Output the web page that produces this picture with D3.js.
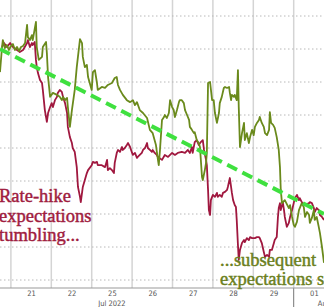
<!DOCTYPE html>
<html>
<head>
<meta charset="utf-8">
<script src="https://cdn.jsdelivr.net/npm/d3@7"></script>
<style>
  body { margin: 0; background: #fff; }
  svg { display: block; }
</style>
</head>
<body>
<div id="chart"></div>
<script>
// trading days on the axis (weekend skipped)
const dayLabels = ['21', '22', '25', '26', '27', '28', '29', '01']
const monthLabels = [{ name: 'Jul 2022', t: 2.5 }, { name: 'Aug 2022', t: 8.0 }]
const valueTicks = [40, 50, 60, 70, 80, 90, 100, 110, 120]

// [trading day offset from Jul 21, bps]
const greenSeries = [
  [-0.27, 103.0], [-0.22, 110.6], [-0.20, 112.7], [-0.15, 110.3], [-0.10, 111.2], [-0.05, 109.7],
  [0.00, 110.9], [0.05, 111.5], [0.10, 109.7], [0.15, 110.6], [0.20, 109.4], [0.25, 110.6],
  [0.30, 110.9], [0.35, 111.8], [0.40, 117.3], [0.42, 113.6], [0.47, 112.7], [0.52, 114.2],
  [0.54, 112.7], [0.62, 118.2], [0.64, 110.6], [0.69, 106.7], [0.77, 107.6], [0.79, 110.6],
  [0.87, 112.1], [0.89, 108.8], [0.92, 101.5], [0.97, 95.5], [1.04, 96.7], [1.14, 96.1],
  [1.21, 95.5], [1.26, 94.5], [1.29, 95.5], [1.34, 94.5], [1.39, 95.2], [1.41, 92.4],
  [1.46, 86.4], [1.51, 91.5], [1.58, 97.6], [1.63, 104.5], [1.71, 113.0], [1.76, 111.8],
  [1.78, 107.6], [1.83, 104.5], [1.88, 105.2], [1.91, 101.5], [2.00, 97.6], [2.03, 103.0],
  [2.08, 103.6], [2.13, 99.7], [2.15, 97.6], [2.25, 98.5], [2.33, 98.2], [2.40, 99.1],
  [2.50, 99.7], [2.57, 101.2], [2.62, 101.5], [2.65, 99.1], [2.70, 97.6], [2.77, 96.1],
  [2.87, 94.5], [2.95, 93.9], [3.02, 94.5], [3.07, 93.0], [3.12, 93.9], [3.19, 91.5],
  [3.27, 90.6], [3.37, 89.1], [3.44, 85.5], [3.51, 84.5], [3.59, 80.9], [3.64, 76.4],
  [3.66, 74.8], [3.69, 79.4], [3.74, 88.5], [3.79, 89.4], [3.81, 90.0], [3.86, 89.1],
  [3.91, 90.6], [3.94, 94.5], [3.99, 92.4], [4.03, 91.5], [4.06, 89.4], [4.11, 91.5],
  [4.16, 93.9], [4.18, 94.5], [4.23, 94.5], [4.28, 93.6], [4.31, 91.5], [4.36, 90.0],
  [4.41, 88.5], [4.43, 86.4], [4.48, 85.5], [4.53, 84.5], [4.55, 84.8], [4.60, 82.4],
  [4.65, 81.5], [4.68, 80.3], [4.73, 71.2], [4.75, 70.3], [4.80, 73.3], [4.83, 75.5],
  [4.85, 78.5], [4.88, 99.7], [4.93, 100.0], [4.98, 94.5], [5.02, 94.5], [5.05, 90.6],
  [5.10, 87.6], [5.15, 90.6], [5.17, 93.6], [5.22, 95.5], [5.27, 98.2], [5.30, 98.5],
  [5.35, 98.2], [5.40, 98.5], [5.42, 96.7], [5.45, 94.5], [5.47, 96.1], [5.52, 95.5],
  [5.54, 96.1], [5.59, 94.5], [5.62, 103.6], [5.64, 92.4], [5.67, 80.3], [5.72, 84.5],
  [5.77, 87.6], [5.79, 82.4], [5.84, 84.5], [5.89, 81.5], [5.92, 83.3], [5.97, 85.5],
  [6.01, 83.9], [6.04, 86.4], [6.09, 87.6], [6.14, 88.5], [6.16, 89.4], [6.21, 87.6],
  [6.26, 86.4], [6.29, 84.5], [6.34, 83.9], [6.39, 85.5], [6.41, 90.9], [6.44, 87.6],
  [6.49, 87.0], [6.53, 86.1], [6.58, 83.3], [6.63, 79.4], [6.66, 74.2], [6.68, 67.3],
  [6.71, 63.3], [6.78, 64.2], [6.88, 61.8], [6.91, 62.7], [6.96, 59.1], [7.00, 56.7],
  [7.03, 56.1], [7.08, 57.6], [7.13, 61.2], [7.20, 63.3], [7.25, 62.1], [7.28, 59.1],
  [7.33, 60.6], [7.38, 59.7], [7.40, 57.3], [7.45, 58.8], [7.50, 61.2], [7.52, 58.2],
  [7.57, 59.1], [7.62, 56.1], [7.65, 54.2], [7.70, 50.0], [7.75, 45.2]
]

const redSeries = [
  [-0.22, 110.6], [-0.17, 111.8], [-0.10, 110.6], [-0.02, 111.8], [0.05, 110.6], [0.15, 109.7],
  [0.22, 109.1], [0.30, 109.7], [0.40, 111.8], [0.42, 112.7], [0.47, 110.6], [0.52, 111.8],
  [0.54, 111.2], [0.59, 112.1], [0.62, 106.7], [0.64, 104.5], [0.67, 102.7], [0.72, 100.6],
  [0.77, 99.7], [0.79, 97.6], [0.84, 91.5], [0.89, 87.9], [0.92, 90.6], [0.97, 92.4],
  [1.01, 93.6], [1.04, 92.4], [1.09, 94.5], [1.14, 95.5], [1.16, 96.7], [1.21, 97.6],
  [1.26, 97.0], [1.29, 95.5], [1.34, 93.6], [1.39, 90.6], [1.41, 86.4], [1.46, 83.3],
  [1.51, 81.5], [1.53, 80.0], [1.58, 78.8], [1.63, 74.2], [1.66, 68.2], [1.71, 65.2],
  [1.73, 63.6], [1.78, 68.2], [1.83, 70.3], [1.88, 72.4], [1.91, 73.3], [2.00, 74.8],
  [2.03, 75.8], [2.08, 75.5], [2.13, 75.8], [2.15, 74.8], [2.25, 74.8], [2.33, 74.2],
  [2.38, 76.4], [2.40, 73.3], [2.45, 73.9], [2.50, 73.3], [2.55, 72.4], [2.57, 75.5],
  [2.62, 78.5], [2.65, 79.4], [2.70, 78.8], [2.75, 80.3], [2.77, 79.4], [2.82, 80.0],
  [2.87, 80.9], [2.90, 81.5], [2.95, 80.3], [3.00, 78.5], [3.02, 77.9], [3.07, 78.5],
  [3.12, 77.0], [3.14, 77.3], [3.19, 77.9], [3.24, 78.5], [3.27, 79.4], [3.32, 80.0],
  [3.37, 81.5], [3.39, 80.0], [3.44, 79.4], [3.49, 78.8], [3.51, 79.4], [3.56, 78.5],
  [3.61, 77.9], [3.64, 77.3], [3.74, 76.4], [3.81, 77.9], [3.89, 77.3], [3.99, 78.5],
  [4.06, 77.9], [4.13, 78.5], [4.23, 78.8], [4.31, 78.5], [4.38, 79.4], [4.43, 78.5],
  [4.48, 80.3], [4.50, 78.5], [4.55, 81.8], [4.60, 82.4], [4.65, 80.9], [4.70, 81.8],
  [4.75, 82.4], [4.78, 79.4], [4.83, 76.4], [4.85, 74.8], [4.88, 67.3], [4.90, 61.2],
  [4.93, 59.7], [4.95, 64.2], [4.98, 65.2], [5.00, 65.8], [5.05, 65.2], [5.10, 66.4],
  [5.12, 65.2], [5.17, 65.8], [5.22, 65.2], [5.25, 66.4], [5.30, 66.7], [5.35, 67.3],
  [5.37, 68.2], [5.42, 70.9], [5.47, 66.4], [5.50, 64.2], [5.54, 62.7], [5.57, 62.1],
  [5.59, 58.2], [5.62, 50.6], [5.64, 46.1], [5.67, 49.1], [5.72, 51.2], [5.77, 52.1],
  [5.79, 51.5], [5.84, 52.7], [5.89, 52.1], [5.92, 53.0], [5.97, 52.7], [6.04, 52.7],
  [6.09, 53.0], [6.14, 53.0], [6.16, 52.7], [6.21, 51.2], [6.26, 48.5], [6.29, 47.0],
  [6.34, 47.6], [6.39, 47.0], [6.41, 49.1], [6.46, 49.1], [6.51, 51.2], [6.53, 52.1],
  [6.58, 53.0], [6.61, 59.1], [6.63, 61.8], [6.66, 63.3], [6.68, 61.2], [6.73, 63.6],
  [6.76, 61.2], [6.78, 59.1], [6.83, 56.1], [6.88, 57.3], [6.91, 59.1], [6.96, 61.2],
  [7.00, 63.3], [7.03, 64.8], [7.08, 65.8], [7.13, 64.2], [7.15, 64.8], [7.20, 63.6],
  [7.28, 62.7], [7.38, 63.3], [7.40, 63.6], [7.45, 63.3], [7.50, 61.8], [7.52, 60.6],
  [7.57, 61.8], [7.62, 61.2], [7.65, 59.7], [7.70, 59.1], [7.75, 58.2]
]

const trendLine = [[-0.27, 110.0], [7.75, 60.0]]

const redNote = ['Rate-hike', 'expectations', 'tumbling...']
const greenNote = ['...subsequent', 'expectations s']

let width = 324
let height = 307
let axisY = 288

let x = d3.scaleLinear()
  .domain([-0.27, 7.75])
  .range([0, width])

let y = d3.scaleLinear()
  .domain([40, 120])
  .range([280, 16])

let svg = d3.select('#chart').append('svg')
  .attr('width', width)
  .attr('height', height)

svg.append('defs').append('clipPath').attr('id', 'plot')
  .append('rect')
  .attr('x', 0).attr('y', 0)
  .attr('width', width).attr('height', axisY)

// vertical day grid
svg.append('g')
  .selectAll('line')
  .data(d3.range(0, 8))
  .join('line')
  .attr('x1', d => x(d)).attr('x2', d => x(d))
  .attr('y1', 0).attr('y2', axisY)
  .attr('stroke', '#d4d4d4')
  .attr('stroke-width', 1.5)

// dotted horizontal grid
svg.append('g')
  .selectAll('line')
  .data(valueTicks)
  .join('line')
  .attr('x1', 0).attr('x2', width)
  .attr('y1', d => y(d)).attr('y2', d => y(d))
  .attr('stroke', '#b8b8b8')
  .attr('stroke-width', 1)
  .attr('stroke-dasharray', '1.5,2.5')

// month separator
svg.append('line')
  .attr('x1', x(7)).attr('x2', x(7))
  .attr('y1', axisY).attr('y2', height)
  .attr('stroke', '#777')
  .attr('stroke-width', 1)

svg.append('line')
  .attr('x1', 0).attr('x2', width)
  .attr('y1', axisY).attr('y2', axisY)
  .attr('stroke', '#999')
  .attr('stroke-width', 1.2)

// day labels
const xAxis = d3.axisBottom(x)
  .tickValues(dayLabels.map((d, i) => i + 0.5))
  .tickFormat((d, i) => dayLabels[i])
  .tickSize(0)
  .tickPadding(3)

let gx = svg.append('g')
  .attr('transform', `translate(0,${axisY})`)
  .call(xAxis)
gx.select('.domain').remove()
gx.selectAll('text')
  .attr('fill', '#555')
  .style('font-family', '"Liberation Sans Narrow", "DejaVu Sans Condensed", sans-serif')
  .style('font-size', '7.5px')

svg.append('g')
  .selectAll('text')
  .data(monthLabels)
  .join('text')
  .attr('x', d => x(d.t))
  .attr('y', 306)
  .attr('text-anchor', 'middle')
  .attr('fill', '#555')
  .style('font-family', '"Liberation Sans Narrow", "DejaVu Sans Condensed", sans-serif')
  .style('font-size', '7.5px')
  .text(d => d.name)

let line = d3.line()
  .x(d => x(d[0]))
  .y(d => y(d[1]))

let plot = svg.append('g').attr('clip-path', 'url(#plot)')

plot.append('path')
  .datum(redSeries)
  .attr('fill', 'none')
  .attr('stroke', '#a0183f')
  .attr('stroke-width', 1.8)
  .attr('stroke-linejoin', 'round')
  .attr('d', line)

plot.append('path')
  .datum(greenSeries)
  .attr('fill', 'none')
  .attr('stroke', '#6a8a1c')
  .attr('stroke-width', 1.8)
  .attr('stroke-linejoin', 'round')
  .attr('d', line)

plot.append('path')
  .datum(trendLine)
  .attr('fill', 'none')
  .attr('stroke', '#3fe03f')
  .attr('stroke-width', 4)
  .attr('stroke-dasharray', '11,6')
  .attr('d', line)

// annotations
svg.append('text')
  .attr('x', -1).attr('y', 202)
  .attr('fill', '#a01c3e')
  .attr('stroke', '#a01c3e')
  .attr('stroke-width', 0.45)
  .style('font-family', '"Liberation Serif", "DejaVu Serif", serif')
  .style('font-size', '18.5px')
  .selectAll('tspan')
  .data(redNote)
  .join('tspan')
  .attr('x', -1)
  .attr('dy', (d, i) => i ? 19.5 : 0)
  .text(d => d)

svg.append('text')
  .attr('x', 220).attr('y', 266)
  .attr('fill', '#6b7f20')
  .attr('stroke', '#6b7f20')
  .attr('stroke-width', 0.45)
  .style('font-family', '"Liberation Serif", "DejaVu Serif", serif')
  .style('font-size', '18.5px')
  .selectAll('tspan')
  .data(greenNote)
  .join('tspan')
  .attr('x', 220)
  .attr('dy', (d, i) => i ? 19 : 0)
  .text(d => d)
</script>
</body>
</html>
